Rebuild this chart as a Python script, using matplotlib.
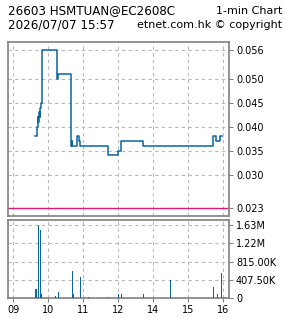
import matplotlib
matplotlib.use("Agg")
import matplotlib.pyplot as plt

# price steps (time of change, price)
price_times = ["09:37", "09:40", "09:42", "09:43", "09:44", "09:45", "09:46", "09:47",
               "09:49", "09:50", "10:15", "10:16", "10:39", "10:40", "10:41", "10:49",
               "10:53", "10:55", "11:42", "13:00", "13:05", "13:43", "15:42", "15:47",
               "15:54", "15:57"]
price_vals = [0.038, 0.040, 0.042, 0.041, 0.043, 0.042, 0.044, 0.045,
              0.046, 0.056, 0.050, 0.051, 0.036, 0.037, 0.036, 0.038,
              0.037, 0.036, 0.034, 0.035, 0.037, 0.036, 0.038, 0.037,
              0.038, 0.038]
ref_price = 0.023

vol_times = ["09:39", "09:43", "09:44", "09:46", "09:47", "09:49", "10:13", "10:17",
             "10:41", "10:43", "10:55", "11:09", "11:43", "13:00", "13:05", "13:43",
             "14:29", "15:43", "15:50", "15:57"]
vol_vals = [210e3, 1630e3, 410e3, 1520e3, 580e3, 90e3, 40e3, 130e3,
            610e3, 90e3, 470e3, 20e3, 20e3, 90e3, 90e3, 90e3,
            400e3, 250e3, 90e3, 560e3]

hour_labels = ["09", "10", "11", "12", "14", "15", "16"]
price_ticks = [0.023, 0.030, 0.035, 0.040, 0.045, 0.050, 0.056]
vol_ticks = [0, 407500, 815000, 1222500, 1630000]
vol_ticklabels = ["0", "407.50K", "815.00K", "1.22M", "1.63M"]


def to_x(t):
    # lunch break removed: 13:00 sits where 12:00 is
    h, m = map(int, t.split(":"))
    if h >= 13:
        return 3 + (h - 13) + m / 60
    return h - 9 + m / 60


blue = "#0a64a0"
frame = "#808080"
grid_kw = dict(color="#b8b8b8", linestyle=(0, (3, 3)), linewidth=0.8)

fig = plt.figure(figsize=(2.85, 3.18), dpi=100)
ax = fig.add_axes([8 / 285, 1 - 216 / 318, 221 / 285, 174 / 318])
axv = fig.add_axes([8 / 285, 1 - 298 / 318, 221 / 285, 78 / 318])

px = [to_x(t) for t in price_times]
ax.step(px, price_vals, where="post", color=blue, linewidth=1.1, zorder=3)
ax.axhline(ref_price, color="#e0187c", linewidth=1.0, zorder=2)

vx = [to_x(t) for t in vol_times]
axv.bar(vx, vol_vals, width=0.032, color=blue, linewidth=0, zorder=3)

for a in (ax, axv):
    a.set_xlim(-0.15, 6.16)
    a.set_xticks(range(len(hour_labels)))
    a.grid(True, **grid_kw)
    a.set_axisbelow(True)
    for s in a.spines.values():
        s.set_color(frame)
        s.set_linewidth(1.2)
    a.yaxis.tick_right()
    a.tick_params(axis="both", colors=frame, labelcolor="black", labelsize=7,
                  length=3, width=0.8, pad=2)

ax.set_ylim(0.02134, 0.0577)
ax.set_yticks(price_ticks)
ax.set_yticklabels(["%.3f" % v for v in price_ticks])
ax.tick_params(axis="x", length=0, labelbottom=False)

axv.set_ylim(0, 1.742e6)
axv.set_yticks(vol_ticks)
axv.set_yticklabels(vol_ticklabels)
axv.set_xticklabels(hour_labels)

fig.text(8 / 285, 1 - 11 / 318, "26603 HSMTUAN@EC2608C", fontsize=8.6, va="center")
fig.text(282 / 285, 1 - 11 / 318, "1-min Chart", fontsize=8, va="center", ha="right")
fig.text(8 / 285, 1 - 25 / 318, "2026/07/07 15:57", fontsize=8.6, va="center")
fig.text(282 / 285, 1 - 25 / 318, "etnet.com.hk \u00a9 copyright", fontsize=8,
         va="center", ha="right")

fig.savefig("out.png", dpi=100)
